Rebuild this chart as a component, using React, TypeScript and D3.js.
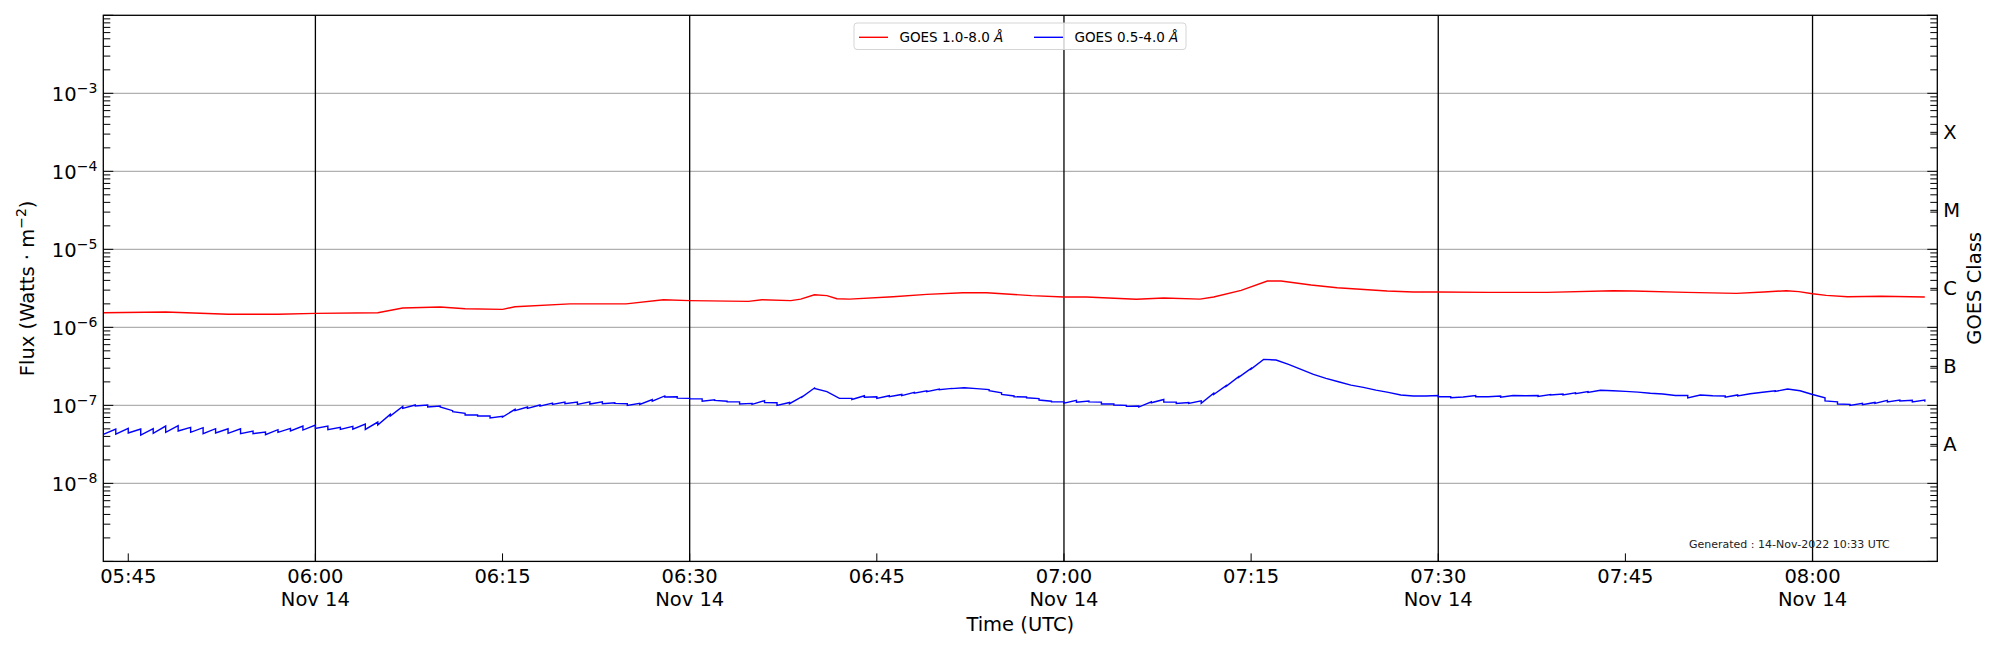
import { useEffect, useRef } from 'react';
import * as d3 from 'd3';

// time axis: minutes after 05:43 UTC, 14 Nov 2022
const START = Date.UTC(2022, 10, 14, 5, 43);
const END = Date.UTC(2022, 10, 14, 8, 10);

// GOES 1.0-8.0 Å  [minute, flux W/m^2]
const xrsLong: [number, number][] = [
  [0, 1.54e-6], [5, 1.57e-6], [10, 1.47e-6], [14, 1.47e-6], [17, 1.51e-6], [22, 1.54e-6],
  [24, 1.77e-6], [27, 1.82e-6], [29, 1.73e-6], [32, 1.7e-6], [33, 1.84e-6], [37.4, 2.0e-6],
  [41.9, 2.0e-6], [44.9, 2.26e-6], [47, 2.2e-6], [51.7, 2.15e-6], [52.8, 2.26e-6], [55.1, 2.2e-6],
  [55.9, 2.3e-6], [57, 2.62e-6], [58, 2.55e-6], [58.8, 2.33e-6], [59.8, 2.3e-6], [63.3, 2.47e-6],
  [66, 2.65e-6], [68.9, 2.78e-6], [70.8, 2.78e-6], [74.4, 2.55e-6], [77, 2.45e-6], [78.8, 2.45e-6],
  [82.8, 2.29e-6], [85, 2.38e-6], [87.9, 2.3e-6], [89, 2.45e-6], [91.2, 2.98e-6], [93.3, 3.93e-6],
  [94.4, 3.93e-6], [96.8, 3.49e-6], [98.9, 3.22e-6], [102.9, 2.92e-6], [105, 2.84e-6], [107, 2.84e-6],
  [111, 2.81e-6], [115.7, 2.81e-6], [121, 2.95e-6], [122.6, 2.92e-6], [126.9, 2.81e-6], [130.9, 2.73e-6],
  [133.1, 2.84e-6], [134.9, 2.95e-6], [135.9, 2.87e-6], [137, 2.7e-6], [138.1, 2.57e-6], [139.8, 2.47e-6],
  [142.5, 2.5e-6], [146, 2.45e-6],
];

// GOES 0.5-4.0 Å  [minute, flux W/m^2]; repeated minutes are the per-minute drops
const xrsShort: [number, number][] = [
  [0, 4.25e-8],
  [1, 4.98e-8], [1, 4.29e-8], [2, 5.07e-8], [2, 4.42e-8], [3, 4.98e-8], [3, 4.17e-8],
  [4, 5.02e-8], [4, 4.38e-8], [5, 5.43e-8], [5, 4.51e-8], [6, 5.48e-8], [6, 4.69e-8],
  [7, 5.22e-8], [7, 4.51e-8], [8, 5.18e-8], [8, 4.34e-8], [9, 5.02e-8], [9, 4.42e-8],
  [10, 5.02e-8], [10, 4.38e-8], [11, 5.02e-8], [11, 4.34e-8], [12, 4.69e-8], [12, 4.34e-8],
  [13, 4.55e-8], [13, 4.21e-8], [14, 4.88e-8], [14, 4.51e-8], [15, 5.07e-8], [15, 4.69e-8],
  [16, 5.43e-8], [16, 4.83e-8], [17, 5.6e-8], [17, 5.07e-8], [18, 5.43e-8], [18, 4.88e-8],
  [19, 5.22e-8], [19, 4.92e-8], [20, 5.38e-8], [20, 4.96e-8], [21, 5.77e-8], [21, 4.92e-8],
  [22, 6.11e-8], [22, 5.6e-8], [23, 7.67e-8], [23, 7.3e-8], [24, 9.71e-8], [24, 9.16e-8],
  [25, 1.01e-7], [25, 9.8e-8], [26, 1.01e-7], [26, 9.52e-8], [27, 9.8e-8], [27, 9.52e-8],
  [28, 8.55e-8], [28, 8.3e-8], [29, 7.89e-8], [29, 7.52e-8], [30, 7.52e-8], [30, 7.3e-8],
  [31, 7.3e-8], [31, 6.89e-8], [32, 7.22e-8], [32, 7.08e-8], [33, 8.89e-8], [33, 8.55e-8],
  [34, 9.52e-8], [34, 9.16e-8], [35, 1.01e-7], [35, 9.8e-8], [36, 1.07e-7], [36, 1.03e-7],
  [37, 1.1e-7], [37, 1.05e-7], [38, 1.1e-7], [38, 1.03e-7], [39, 1.11e-7], [39, 1.04e-7],
  [40, 1.11e-7], [40, 1.05e-7], [41, 1.08e-7], [41, 1.06e-7], [42, 1.05e-7], [42, 1.0e-7],
  [43, 1.06e-7], [43, 1.03e-7], [44, 1.19e-7], [44, 1.13e-7], [45, 1.32e-7], [45, 1.28e-7],
  [46, 1.29e-7], [46, 1.24e-7], [47, 1.23e-7], [47, 1.21e-7], [48, 1.21e-7], [48, 1.13e-7],
  [49, 1.18e-7], [49, 1.16e-7], [50, 1.13e-7], [50, 1.11e-7], [51, 1.11e-7], [51, 1.04e-7],
  [52, 1.06e-7], [52, 1.03e-7], [53, 1.15e-7], [53, 1.09e-7], [54, 1.08e-7], [54, 1.0e-7],
  [55, 1.09e-7], [55, 1.05e-7], [56, 1.29e-7], [56, 1.28e-7], [57, 1.67e-7], [57, 1.65e-7],
  [58, 1.5e-7], [59, 1.23e-7], [60, 1.23e-7], [60, 1.19e-7], [61, 1.33e-7], [61, 1.27e-7],
  [62, 1.29e-7], [62, 1.23e-7], [63, 1.33e-7], [63, 1.29e-7], [64, 1.38e-7], [64, 1.33e-7],
  [65, 1.47e-7], [65, 1.43e-7], [66, 1.54e-7], [66, 1.5e-7], [67, 1.62e-7], [67, 1.59e-7],
  [68, 1.65e-7], [68, 1.64e-7], [69, 1.68e-7], [70, 1.64e-7], [71, 1.59e-7], [71, 1.54e-7],
  [72, 1.45e-7], [72, 1.38e-7], [73, 1.32e-7], [73, 1.29e-7], [74, 1.28e-7], [74, 1.25e-7],
  [75, 1.22e-7], [75, 1.17e-7], [76, 1.13e-7], [76, 1.11e-7], [77, 1.11e-7], [77, 1.07e-7],
  [78, 1.16e-7], [78, 1.1e-7], [79, 1.14e-7], [79, 1.11e-7], [80, 1.1e-7], [80, 1.04e-7],
  [81, 1.04e-7], [81, 1.01e-7], [82, 1.0e-7], [82, 9.71e-8], [83, 9.8e-8], [83, 9.52e-8],
  [84, 1.11e-7], [84, 1.08e-7], [85, 1.19e-7], [85, 1.1e-7], [86, 1.1e-7], [86, 1.06e-7],
  [87, 1.09e-7], [87, 1.06e-7], [88, 1.14e-7], [88, 1.06e-7], [89, 1.43e-7], [89, 1.38e-7],
  [90, 1.79e-7], [90, 1.75e-7], [91, 2.33e-7], [91, 2.29e-7], [92, 2.98e-7], [92, 2.92e-7],
  [93, 3.89e-7], [94, 3.81e-7], [95, 3.36e-7], [96, 2.9e-7], [97, 2.49e-7], [98, 2.22e-7],
  [99, 2.01e-7], [100, 1.82e-7], [101, 1.7e-7], [102, 1.57e-7], [103, 1.47e-7], [104, 1.36e-7],
  [105, 1.32e-7], [106, 1.32e-7], [107, 1.34e-7], [107, 1.29e-7], [108, 1.29e-7], [108, 1.25e-7],
  [109, 1.28e-7], [110, 1.34e-7], [110, 1.29e-7], [111, 1.29e-7], [112, 1.32e-7], [112, 1.27e-7],
  [113, 1.34e-7], [114, 1.33e-7], [115, 1.34e-7], [115, 1.3e-7], [116, 1.38e-7], [116, 1.36e-7],
  [117, 1.4e-7], [117, 1.36e-7], [118, 1.45e-7], [118, 1.41e-7], [119, 1.5e-7], [119, 1.47e-7],
  [120, 1.56e-7], [121, 1.54e-7], [122, 1.51e-7], [123, 1.48e-7], [124, 1.43e-7], [125, 1.4e-7],
  [126, 1.34e-7], [127, 1.34e-7], [127, 1.25e-7], [128, 1.36e-7], [129, 1.33e-7], [130, 1.32e-7],
  [130, 1.27e-7], [131, 1.36e-7], [131, 1.32e-7], [132, 1.41e-7], [133, 1.47e-7], [134, 1.54e-7],
  [134, 1.51e-7], [135, 1.62e-7], [136, 1.54e-7], [137, 1.38e-7], [138, 1.25e-7], [138, 1.14e-7],
  [139, 1.11e-7], [139, 1.04e-7], [140, 1.03e-7], [140, 1.0e-7], [141, 1.06e-7], [141, 1.02e-7],
  [142, 1.09e-7], [142, 1.06e-7], [143, 1.16e-7], [143, 1.11e-7], [144, 1.17e-7], [144, 1.14e-7],
  [145, 1.16e-7], [145, 1.11e-7], [146, 1.17e-7], [146, 1.11e-7],
];

const gridDecades = [1e-3, 1e-4, 1e-5, 1e-6, 1e-7, 1e-8];
const decadeExponents = ['−3', '−4', '−5', '−6', '−7', '−8'];
const classLabels = ['A', 'B', 'C', 'M', 'X'];
const classCenters = [3.162e-8, 3.162e-7, 3.162e-6, 3.162e-5, 3.162e-4];
const seriesNames = ['GOES 1.0-8.0 ', 'GOES 0.5-4.0 '];
const seriesColors = ['#ff0000', '#0000ff'];

const FONT = '"DejaVu Sans", Verdana, sans-serif';

export default function App() {
  const svgRef = useRef<SVGSVGElement>(null);
  const width = 2000;
  const height = 650;
  const margin = { top: 15.3, right: 62.7, bottom: 88.6, left: 103.3 };

  useEffect(() => {
    if (!svgRef.current) return;
    const root = d3.select(svgRef.current);
    root.selectAll('*').remove();

    const iw = width - margin.left - margin.right;
    const ih = height - margin.top - margin.bottom;

    const x = d3.scaleUtc().domain([new Date(START), new Date(END)]).range([0, iw]);
    const y = d3.scaleLog().domain([1e-9, 1e-2]).range([ih, 0]);
    const tx = (m: number) => x(new Date(START + m * 60000));

    const g = root.append('g').attr('transform', `translate(${margin.left},${margin.top})`);

    // horizontal grid at each decade
    g.selectAll('line.grid')
      .data(gridDecades)
      .join('line')
      .attr('x1', 0)
      .attr('x2', iw)
      .attr('y1', (d) => y(d))
      .attr('y2', (d) => y(d))
      .attr('stroke', '#b0b0b0')
      .attr('stroke-width', 1.2);

    // black vertical lines every half hour
    const halfHours = d3.utcMinute.every(30)!.range(new Date(START), new Date(END));
    g.selectAll('line.vl')
      .data(halfHours)
      .join('line')
      .attr('x1', (d) => x(d))
      .attr('x2', (d) => x(d))
      .attr('y1', 0)
      .attr('y2', ih)
      .attr('stroke', '#000')
      .attr('stroke-width', 1.3);

    // series
    const line = d3
      .line<[number, number]>()
      .x((d) => tx(d[0]))
      .y((d) => y(d[1]));
    [xrsLong, xrsShort].forEach((s, i) => {
      g.append('path')
        .datum(s)
        .attr('d', line)
        .attr('fill', 'none')
        .attr('stroke', seriesColors[i])
        .attr('stroke-width', 1.4)
        .attr('stroke-linejoin', 'miter');
    });

    // y ticks (inward), both sides
    const yTicks = y.ticks();
    const isMajor = (v: number) => Math.abs(Math.log10(v) - Math.round(Math.log10(v))) < 1e-6;
    g.selectAll('line.ytl')
      .data(yTicks)
      .join('line')
      .attr('x1', 0)
      .attr('x2', (d) => (isMajor(d) ? 10 : 7))
      .attr('y1', (d) => y(d))
      .attr('y2', (d) => y(d))
      .attr('stroke', '#000')
      .attr('stroke-width', 1);
    g.selectAll('line.ytr')
      .data([...yTicks, ...classCenters])
      .join('line')
      .attr('x1', iw)
      .attr('x2', (d) => iw - (isMajor(d) ? 10 : 7))
      .attr('y1', (d) => y(d))
      .attr('y2', (d) => y(d))
      .attr('stroke', '#000')
      .attr('stroke-width', 1);

    // y tick labels 10^n
    const yl = g
      .selectAll('text.ylab')
      .data(gridDecades)
      .join('text')
      .attr('x', -6)
      .attr('y', (d) => y(d) + 8)
      .attr('text-anchor', 'end')
      .attr('font-family', FONT)
      .attr('font-size', 19.5)
      .attr('fill', '#000');
    yl.append('tspan').text('10');
    yl.append('tspan')
      .attr('dy', -8)
      .attr('font-size', 14)
      .text((_, i) => decadeExponents[i]);

    // class labels on right
    g.selectAll('text.cls')
      .data(classCenters)
      .join('text')
      .attr('x', iw + 6)
      .attr('y', (d) => y(d) + 7)
      .attr('font-family', FONT)
      .attr('font-size', 19.5)
      .text((_, i) => classLabels[i]);

    // x ticks (inward)
    const xTicks = d3.utcMinute.every(15)!.range(new Date(START), new Date(END));
    g.selectAll('line.xt')
      .data(xTicks)
      .join('line')
      .attr('x1', (d) => x(d))
      .attr('x2', (d) => x(d))
      .attr('y1', ih)
      .attr('y2', ih - 8)
      .attr('stroke', '#000')
      .attr('stroke-width', 1);
    const fmt = d3.utcFormat('%H:%M');
    const xl = g
      .selectAll('text.xlab')
      .data(xTicks)
      .join('text')
      .attr('text-anchor', 'middle')
      .attr('font-family', FONT)
      .attr('font-size', 19.5);
    xl.append('tspan')
      .attr('x', (d) => x(d))
      .attr('y', ih + 21.2)
      .text((d) => fmt(d));
    xl.filter((d) => d.getUTCMinutes() % 30 === 0)
      .append('tspan')
      .attr('x', (d) => x(d))
      .attr('y', ih + 44.2)
      .text('Nov 14');

    // frame
    g.append('rect')
      .attr('width', iw)
      .attr('height', ih)
      .attr('fill', 'none')
      .attr('stroke', '#000')
      .attr('stroke-width', 1.3);

    // axis titles
    root
      .append('text')
      .attr('x', margin.left + iw / 2)
      .attr('y', 631)
      .attr('text-anchor', 'middle')
      .attr('font-family', FONT)
      .attr('font-size', 19.5)
      .text('Time (UTC)');
    const yt = root
      .append('text')
      .attr('transform', `translate(34,${margin.top + ih / 2}) rotate(-90)`)
      .attr('text-anchor', 'middle')
      .attr('font-family', FONT)
      .attr('font-size', 19.5);
    yt.append('tspan').text('Flux (Watts · m');
    yt.append('tspan').attr('dy', -8).attr('font-size', 14).text('−2');
    yt.append('tspan').attr('dy', 8).text(')');
    root
      .append('text')
      .attr('transform', `translate(1981,${margin.top + ih / 2}) rotate(-90)`)
      .attr('text-anchor', 'middle')
      .attr('font-family', FONT)
      .attr('font-size', 19.5)
      .text('GOES Class');

    // legend
    const lg = root.append('g').attr('transform', 'translate(854,23)');
    lg.append('rect')
      .attr('width', 332)
      .attr('height', 26.5)
      .attr('rx', 3)
      .attr('fill', '#fff')
      .attr('fill-opacity', 0.8)
      .attr('stroke', '#d5d5d5')
      .attr('stroke-width', 1);
    const offsets = [5, 180];
    seriesNames.forEach((name, i) => {
      lg.append('line')
        .attr('x1', offsets[i])
        .attr('x2', offsets[i] + 29)
        .attr('y1', 14.3)
        .attr('y2', 14.3)
        .attr('stroke', seriesColors[i])
        .attr('stroke-width', 1.4);
      const t = lg
        .append('text')
        .attr('x', offsets[i] + 40.5)
        .attr('y', 18.8)
        .attr('font-family', FONT)
        .attr('font-size', 13.5);
      t.append('tspan').text(name);
      t.append('tspan').attr('font-style', 'italic').text('Å');
    });

    root
      .append('text')
      .attr('x', 1689)
      .attr('y', 548)
      .attr('font-family', FONT)
      .attr('font-size', 11)
      .attr('fill', '#222')
      .text('Generated : 14-Nov-2022 10:33 UTC');
  }, []);

  return (
    <svg
      ref={svgRef}
      width={width}
      height={height}
      style={{ position: 'absolute', left: 0, top: 0, background: '#fff' }}
    />
  );
}
